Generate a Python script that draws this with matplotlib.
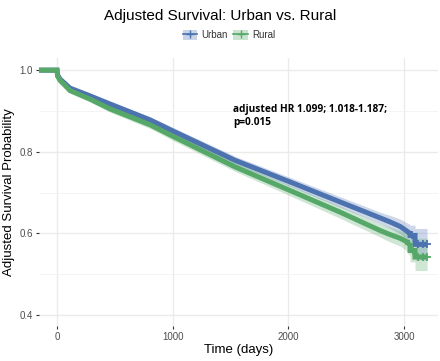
import matplotlib.pyplot as plt
from matplotlib.patches import Patch
from matplotlib.lines import Line2D
import matplotlib.ticker as ticker

plt.rcParams['font.family'] = ['Liberation Sans', 'DejaVu Sans']

# survival estimates
urban_time = [-160, 0, 5, 26, 112, 285, 458, 804, 1000, 1538, 2014, 2446,
              2792, 2878, 2965, 3051, 3051, 3094, 3094, 3198]
urban_surv = [1.0, 1.0, 0.988, 0.978, 0.956, 0.937, 0.917, 0.878, 0.851, 0.779,
              0.726, 0.677, 0.638, 0.628, 0.617, 0.600, 0.595, 0.595, 0.573,
              0.573]
urban_lo = [1.0, 1.0, 0.985, 0.974, 0.951, 0.931, 0.910, 0.870, 0.842, 0.769,
            0.715, 0.664, 0.624, 0.612, 0.599, 0.578, 0.570, 0.570, 0.535,
            0.535]
urban_hi = [1.0, 1.0, 0.991, 0.982, 0.961, 0.943, 0.924, 0.886, 0.860, 0.789,
            0.737, 0.690, 0.652, 0.644, 0.635, 0.622, 0.620, 0.620, 0.612,
            0.612]
urban_cens_t = [3068, 3120, 3163, 3198]
urban_cens_s = [0.595, 0.573, 0.573, 0.573]

rural_time = [-160, 0, 5, 26, 112, 285, 458, 804, 1000, 1538, 2014, 2446,
              2792, 2878, 2965, 3025, 3025, 3051, 3051, 3094, 3094, 3198]
rural_surv = [1.0, 1.0, 0.985, 0.975, 0.950, 0.929, 0.905, 0.866, 0.838, 0.763,
              0.705, 0.652, 0.607, 0.597, 0.588, 0.579, 0.579, 0.570, 0.558,
              0.558, 0.542, 0.542]
rural_lo = [1.0, 1.0, 0.981, 0.970, 0.944, 0.922, 0.897, 0.857, 0.828, 0.752,
            0.692, 0.637, 0.591, 0.579, 0.569, 0.557, 0.555, 0.545, 0.530,
            0.530, 0.509, 0.509]
rural_hi = [1.0, 1.0, 0.989, 0.980, 0.956, 0.936, 0.913, 0.875, 0.848, 0.774,
            0.718, 0.667, 0.624, 0.615, 0.607, 0.601, 0.603, 0.595, 0.590,
            0.590, 0.588, 0.588]
rural_cens_t = [3040, 3075, 3120, 3163, 3198]
rural_cens_s = [0.575, 0.558, 0.542, 0.542, 0.542]

urban_col = '#4C72B0'
rural_col = '#55A868'

fig = plt.figure(figsize=(4.4, 3.61), dpi=100)
ax = fig.add_axes([0.0886, 0.097, 0.907, 0.742])

groups = [
    (urban_time, urban_surv, urban_lo, urban_hi, urban_cens_t, urban_cens_s, urban_col),
    (rural_time, rural_surv, rural_lo, rural_hi, rural_cens_t, rural_cens_s, rural_col),
]
for t, s, lo, hi, ct, cs, col in groups:
    ax.fill_between(t, lo, hi, color=col, alpha=0.28, linewidth=0)
for t, s, lo, hi, ct, cs, col in groups:
    ax.plot(t, s, color=col, linewidth=3.6, solid_capstyle='butt',
            solid_joinstyle='miter')
    ax.plot(ct, cs, linestyle='none', marker='+', markersize=6,
            markeredgewidth=1.3, color=col)

ax.set_xlim(-156, 3293)
ax.set_ylim(0.373, 1.0295)
ax.xaxis.set_major_locator(ticker.FixedLocator([0, 1000, 2000, 3000]))
ax.yaxis.set_major_locator(ticker.FixedLocator([0.4, 0.6, 0.8, 1.0]))
ax.yaxis.set_minor_locator(ticker.FixedLocator([0.5, 0.7, 0.9]))
ax.yaxis.set_major_formatter(ticker.FormatStrFormatter('%.1f'))
ax.grid(True, which='major', color='#ebebeb', linewidth=1.0)
ax.grid(True, which='minor', axis='y', color='#f3f3f3', linewidth=0.6)
ax.set_axisbelow(True)
for sp in ax.spines.values():
    sp.set_visible(False)
ax.tick_params(axis='both', which='major', length=2.5, width=0.8,
               color='#333333', labelcolor='#4d4d4d', labelsize=7, pad=2)
ax.tick_params(axis='y', which='minor', length=0)

ax.set_xlabel('Time (days)', fontsize=9.5, labelpad=1)
ax.set_ylabel('Adjusted Survival Probability', fontsize=9.5, labelpad=3)

ax.text(1520, 0.918, 'adjusted HR 1.099; 1.018-1.187;\np=0.015',
        family=['Open Sans', 'DejaVu Sans'], fontweight='bold', fontsize=7.3,
        va='top', ha='left', linespacing=1.3)

fig.suptitle('Adjusted Survival: Urban vs. Rural', x=0.5, y=0.975,
             fontsize=11)

handles = [
    (Patch(facecolor=urban_col, alpha=0.3, linewidth=0),
     Line2D([], [], color=urban_col, marker='+', markersize=6, linewidth=1.2)),
    (Patch(facecolor=rural_col, alpha=0.3, linewidth=0),
     Line2D([], [], color=rural_col, marker='+', markersize=6, linewidth=1.2)),
]
fig.legend(handles, ['Urban', 'Rural'], loc='center',
           bbox_to_anchor=(0.52, 1 - 35 / 361), ncol=2, frameon=False,
           fontsize=7, handlelength=1.5, handleheight=1.3, handletextpad=0.4,
           columnspacing=0.6, borderpad=0, labelcolor='#333333')

fig.savefig('out.png', dpi=100)
